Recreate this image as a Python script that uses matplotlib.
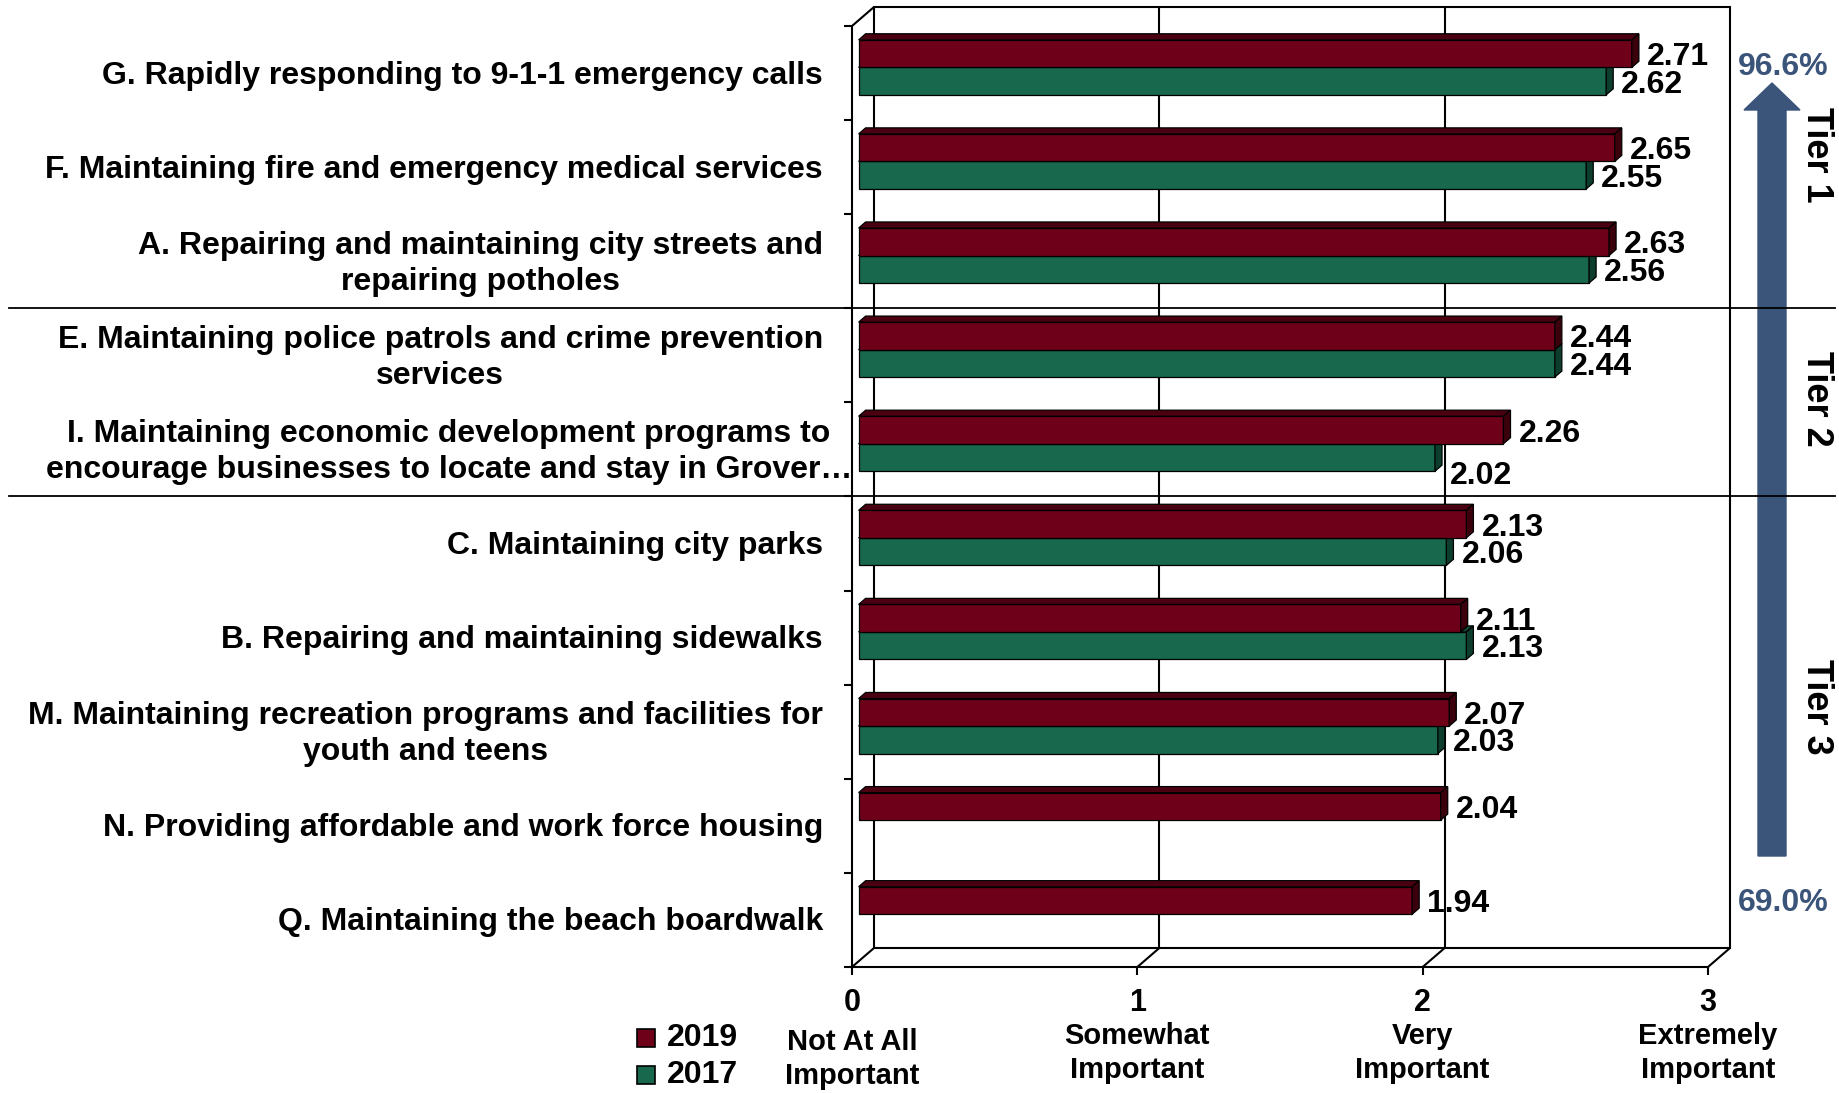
import matplotlib
matplotlib.use("Agg")
import matplotlib.pyplot as plt
import matplotlib.transforms as mtransforms
from matplotlib.patches import Polygon, Rectangle, FancyArrow
from matplotlib.lines import Line2D

# mean importance rating per service, top to bottom
categories = [
    "G. Rapidly responding to 9-1-1 emergency calls",
    "F. Maintaining fire and emergency medical services",
    "A. Repairing and maintaining city streets and\nrepairing potholes",
    "E. Maintaining police patrols and crime prevention\nservices",
    "I. Maintaining economic development programs to\nencourage businesses to locate and stay in Grover\u2026",
    "C. Maintaining city parks",
    "B. Repairing and maintaining sidewalks",
    "M. Maintaining recreation programs and facilities for\nyouth and teens",
    "N. Providing affordable and work force housing",
    "Q. Maintaining the beach boardwalk",
]
mean_2019 = [2.71, 2.65, 2.63, 2.44, 2.26, 2.13, 2.11, 2.07, 2.04, 1.94]
mean_2017 = [2.62, 2.55, 2.56, 2.44, 2.02, 2.06, 2.13, 2.03, None, None]
series_names = ["2019", "2017"]

scale_ticks = [0, 1, 2, 3]
scale_labels = ["Not At All\nImportant", "Somewhat\nImportant",
                "Very\nImportant", "Extremely\nImportant"]

tier_names = ["Tier 1", "Tier 2", "Tier 3"]
tier_breaks = [3, 5]          # items above each divider line
pct_top, pct_bottom = "96.6%", "69.0%"

plt.rcParams['font.family'] = ['Liberation Sans', 'DejaVu Sans']

W, H = 1839, 1093
fig = plt.figure(figsize=(W / 100, H / 100), dpi=100)
fig.patch.set_facecolor("white")

# front plane of the plot box, in pixels
X0_PX, X3_PX = 852, 1708
Y_TOP_PX, Y_BOT_PX = 26, 967
n = len(categories)
ax = fig.add_axes([X0_PX / W, 1 - Y_BOT_PX / H,
                   (X3_PX - X0_PX) / W, (Y_BOT_PX - Y_TOP_PX) / H])
ax.set_xlim(0, 3)
ax.set_ylim(0, n)
ax.axis("off")

ux = (X3_PX - X0_PX) / 3.0     # px per rating unit
uy = (Y_BOT_PX - Y_TOP_PX) / n  # px per category
ddx, ddy = 22 / ux, 19 / uy     # full depth of the 3-D box
F1, F2 = 0.30, 0.62             # bar depth (front, back) as share of box depth

# pixel coords (origin top-left) -> figure
pix = mtransforms.Affine2D().scale(1 / W, -1 / H).translate(0, 1) + fig.transFigure

WALL = dict(color="black", lw=1.5, clip_on=False, solid_capstyle="butt")

# back wall
ax.add_patch(Rectangle((ddx, ddy), 3, n, fc="white", ec="black", lw=1.5,
                       clip_on=False, zorder=0))
for v in scale_ticks[1:-1]:
    ax.plot([v + ddx, v + ddx], [ddy, n + ddy], zorder=1, **WALL)
# floor
ax.plot([0, 3], [0, 0], zorder=1, **WALL)
for v in scale_ticks:
    ax.plot([v, v + ddx], [0, ddy], zorder=1, **WALL)
    ax.plot([v, v], [0, -8 / uy], zorder=1, **WALL)
# left wall
ax.plot([0, 0], [0, n], zorder=1, **WALL)
ax.plot([0, ddx], [n, n + ddy], zorder=1, **WALL)
for k in range(n + 1):
    ax.plot([-8 / ux, 0], [k, k], zorder=1, **WALL)

colors = {
    "2019": ("#6e0019", "#4a0011", "#3c000d"),
    "2017": ("#17684d", "#0f4a37", "#0c3d2d"),
}
bar_h = 27.5 / uy
label_nudge = {(4, "2017"): -15}   # px, keeps the I. labels apart


def bar3d(y_bottom, value, front, top, side, z):
    x0 = F1 * ddx
    yb = y_bottom + F1 * ddy
    d = F2 - F1
    ex, ey = d * ddx, d * ddy
    ax.add_patch(Rectangle((x0, yb), value, bar_h, fc=front, ec="black",
                           lw=0.9, zorder=z))
    ax.add_patch(Polygon([(x0, yb + bar_h), (x0 + value, yb + bar_h),
                          (x0 + value + ex, yb + bar_h + ey), (x0 + ex, yb + bar_h + ey)],
                         closed=True, fc=top, ec="black", lw=0.9, zorder=z))
    ax.add_patch(Polygon([(x0 + value, yb), (x0 + value + ex, yb + ey),
                          (x0 + value + ex, yb + bar_h + ey), (x0 + value, yb + bar_h)],
                         closed=True, fc=side, ec="black", lw=0.9, zorder=z))
    return x0 + value + ex, yb + bar_h / 2


for i, label in enumerate(categories):
    c = n - i - 0.5
    for s, (name, vals) in enumerate([("2017", mean_2017), ("2019", mean_2019)]):
        v = vals[i]
        if v is None:
            continue
        y_bottom = c - bar_h if name == "2017" else c
        xe, ym = bar3d(y_bottom, v, *colors[name], z=3 + s)
        ym += label_nudge.get((i, name), 0) / uy
        ax.text(xe + 8 / ux, ym, f"{v:.2f}", ha="left", va="center_baseline",
                fontsize=23, fontweight="bold", zorder=6, clip_on=False)

    shift = 29 if i == 4 else 0
    ax.text((-29 + shift) / ux, c - 2.5 / uy, label, ha="right", va="center",
            multialignment="center", fontsize=23, fontweight="bold",
            linespacing=1.25)

# tier dividers across the whole figure
blend = mtransforms.blended_transform_factory(pix, ax.transData)
for b in tier_breaks:
    fig.add_artist(Line2D([9, 1835], [n - b, n - b], color="black", lw=1.3,
                          transform=blend))

# x axis numbers and scale wording
for v, lab in zip(scale_ticks, scale_labels):
    ax.text(v, (Y_BOT_PX - 1003) / uy, str(v), ha="center", va="center",
            fontsize=22, fontweight="bold")
    yc = 1059 if v == 0 else 1053
    ax.text(v, (Y_BOT_PX - yc) / uy, lab, ha="center", va="center",
            fontsize=21, fontweight="bold", linespacing=1.3)

# legend
for name, yc in zip(series_names, [1038, 1075]):
    fig.add_artist(Rectangle((637, yc - 9), 18, 18, fc=colors[name][0],
                             ec="black", lw=1.2, transform=pix))
    fig.text(667, yc, name, transform=pix, ha="left", va="center",
             fontsize=23, fontweight="bold")

# tier arrow and labels
arrow_c = "#3b5479"
fig.add_artist(FancyArrow(1772, 856, 0, -773, width=28, head_width=56,
                          head_length=27, length_includes_head=True,
                          color=arrow_c, transform=pix))
fig.text(1783, 67, pct_top, transform=pix, ha="center", va="center",
         fontsize=23, fontweight="bold", color=arrow_c)
fig.text(1783, 903, pct_bottom, transform=pix, ha="center", va="center",
         fontsize=23, fontweight="bold", color=arrow_c)
for name, yc in zip(tier_names, [155, 399, 707]):
    fig.text(1817, yc, name, transform=pix, ha="center", va="center",
             rotation=-90, fontsize=26, fontweight="bold")

fig.savefig("out.png", dpi=100, facecolor="white")
